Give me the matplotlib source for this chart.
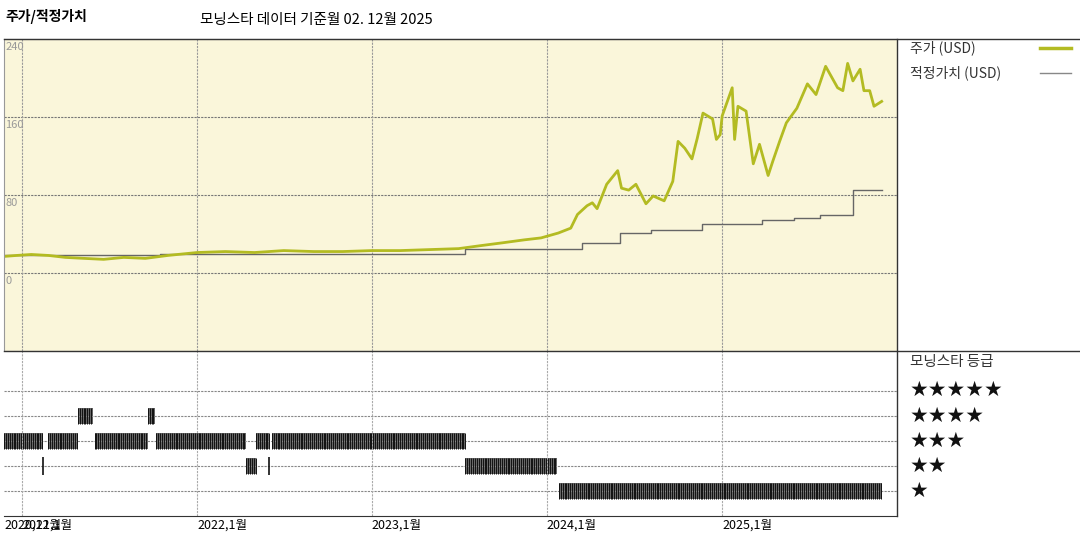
import matplotlib
matplotlib.use("Agg")
import matplotlib.pyplot as plt
import pandas as pd

plt.rcParams['font.family'] = ['Noto Sans CJK KR', 'DejaVu Sans']

price_dates = ["2020-11-24","2020-12-20","2021-01-20","2021-02-25","2021-04-01","2021-05-10","2021-06-20",
    "2021-08-01","2021-09-15","2021-11-01","2022-01-01","2022-03-01","2022-05-01","2022-07-01","2022-09-01",
    "2022-11-01","2023-01-01","2023-03-01","2023-05-01","2023-07-01","2023-08-15","2023-10-01","2023-11-15",
    "2023-12-20","2024-01-25","2024-02-20","2024-03-05","2024-03-25","2024-04-05","2024-04-15","2024-05-05",
    "2024-05-28","2024-06-05","2024-06-20","2024-07-05","2024-07-26","2024-08-10","2024-09-02","2024-09-20",
    "2024-10-01","2024-10-15","2024-10-30","2024-11-10","2024-11-22","2024-12-12","2024-12-20","2024-12-28",
    "2025-01-01","2025-01-22","2025-01-27","2025-02-03","2025-02-20","2025-03-07","2025-03-20","2025-04-07",
    "2025-04-17","2025-05-01","2025-05-15","2025-06-06","2025-06-28","2025-07-16","2025-08-05","2025-08-30",
    "2025-09-10","2025-09-20","2025-10-01","2025-10-16","2025-10-24","2025-11-05","2025-11-14","2025-11-30"]
price_values = [17,18,19,18,16,15,14,16,15,18,21,22,21,23,22,22,23,23,24,25,28,31,34,36,
    41,46,60,69,72,66,91,105,87,85,91,71,79,74,94,
    135,128,117,138,164,158,137,142,
    161,190,137,171,166,112,132,100,
    115,135,154,169,194,183,212,190,
    187,215,197,209,187,187,171,176]

fv_dates = ["2020-11-24","2021-10-15","2023-07-15","2024-03-15","2024-06-01","2024-08-05","2024-11-20",
    "2025-03-25","2025-05-30","2025-07-25","2025-10-01","2025-11-30"]
fv_values = [18,20,25,31,41,44,50,54,56,60,85,85]

rating_starts = ["2020-11-24","2021-02-14","2021-02-24","2021-04-27","2021-06-01","2021-09-20","2021-10-08",
    "2022-04-13","2022-05-04","2022-06-01","2022-06-06","2023-07-15","2024-01-26"]
rating_ends = ["2021-02-14","2021-02-18","2021-04-27","2021-05-28","2021-09-20","2021-10-05","2022-04-13",
    "2022-05-04","2022-06-01","2022-06-03","2023-07-15","2024-01-22","2025-11-30"]
rating_stars = [3,2,3,4,3,4,3,2,3,2,3,2,1]

pdts = pd.to_datetime(price_dates)

fig = plt.figure(figsize=(10.8, 5.4), dpi=100)
W, H = 1080, 540
def rect(x0, y0, x1, y1):
    return [x0/W, 1-y1/H, (x1-x0)/W, (y1-y0)/H]

xmin, xmax = pd.Timestamp("2020-11-24"), pd.Timestamp("2026-01-01")
years = [pd.Timestamp(f"{y}-01-01") for y in range(2021, 2026)]
bg = "#faf6da"

ax = fig.add_axes(rect(4, 39, 897, 351))
ax.set_facecolor(bg)
ax.set_xlim(xmin, xmax); ax.set_ylim(-80, 240)
for yv in [160, 80, 0]:
    ax.axhline(yv, color="#777", ls=(0, (2, 1)), lw=0.8)
for yr in years:
    ax.axvline(yr, color="#999", ls=(0, (2, 1)), lw=0.8)
for yv in [240, 160, 80, 0]:
    ax.text(xmin + pd.Timedelta(days=3), yv - 3, str(yv), fontsize=8, color="#999", va="top", ha="left")
ax.step(pd.to_datetime(fv_dates), fv_values, where="post", color="#666", lw=1)
ax.plot(pdts, price_values, color="#b3bb22", lw=2)
ax.set_xticks([]); ax.set_yticks([])
for s in ax.spines.values():
    s.set_color("#999"); s.set_linestyle((0, (2, 1))); s.set_linewidth(0.8)
ax.spines['right'].set_visible(False)

bx = fig.add_axes(rect(4, 351, 897, 516))
bx.set_xlim(xmin, xmax); bx.set_ylim(0, 6.6)
for k in range(1, 6):
    bx.axhline(k, color="#888", ls=(0, (2, 1)), lw=0.8)
for yr in years:
    bx.axvline(yr, color="#aaa", ls=(0, (2, 1)), lw=0.8)
for s0, e0, st in zip(rating_starts, rating_ends, rating_stars):
    s0, e0 = pd.Timestamp(s0), pd.Timestamp(e0)
    if (e0 - s0).days < 6:
        bx.vlines(s0, st - 0.35, st + 0.35, color="#111", lw=1.2)
        continue
    bx.fill_between([s0, e0], st - 0.32, st + 0.32, color="#666", lw=0)
    wk = pd.date_range(s0, e0, freq="4D")
    bx.vlines(wk, st - 0.32, st + 0.32, color="#111", lw=0.7)
bx.set_yticks([])
ticks = [pd.Timestamp("2020-11-26")] + years
labels = ["2020,12월"] + [f"{t.year},1월" for t in years]
bx.set_xticks(ticks)
bx.set_xticklabels(labels, fontsize=9, ha="left")
bx.tick_params(axis="x", length=0, pad=2)
for s in ['top', 'right', 'left']:
    bx.spines[s].set_visible(False)
bx.spines['bottom'].set_color("#333")

lines = [((4, 39), (1080, 39)), ((4, 351), (1080, 351)), ((897, 39), (897, 516))]
for (x0, y0), (x1, y1) in lines:
    fig.add_artist(plt.Line2D([x0/W, x1/W], [1-y0/H, 1-y1/H], color="#333", lw=1))

fig.text(5/W, 1-17/H, "주가/적정가치", fontsize=10, fontweight="bold", va="center")
fig.text(200/W, 1-20/H, "모닝스타 데이터 기준월 02. 12월 2025", fontsize=10.5, va="center")
fig.text(910/W, 1-48/H, "주가 (USD)", fontsize=10, va="center", color="#333")
fig.text(910/W, 1-73/H, "적정가치 (USD)", fontsize=10, va="center", color="#333")
fig.add_artist(plt.Line2D([1040/W, 1071/W], [1-48/H]*2, color="#b3bb22", lw=2.5))
fig.add_artist(plt.Line2D([1040/W, 1071/W], [1-73/H]*2, color="#888", lw=1))
fig.text(910/W, 1-362/H, "모닝스타 등급", fontsize=10.5, va="center", color="#333")
for k, yy in zip(range(5, 0, -1), [390, 416, 441, 466, 491]):
    fig.text(910/W, 1-yy/H, "★" * k, fontsize=15, va="center", color="#111",
             family=["DejaVu Sans"])

fig.savefig("out.png", dpi=100)
